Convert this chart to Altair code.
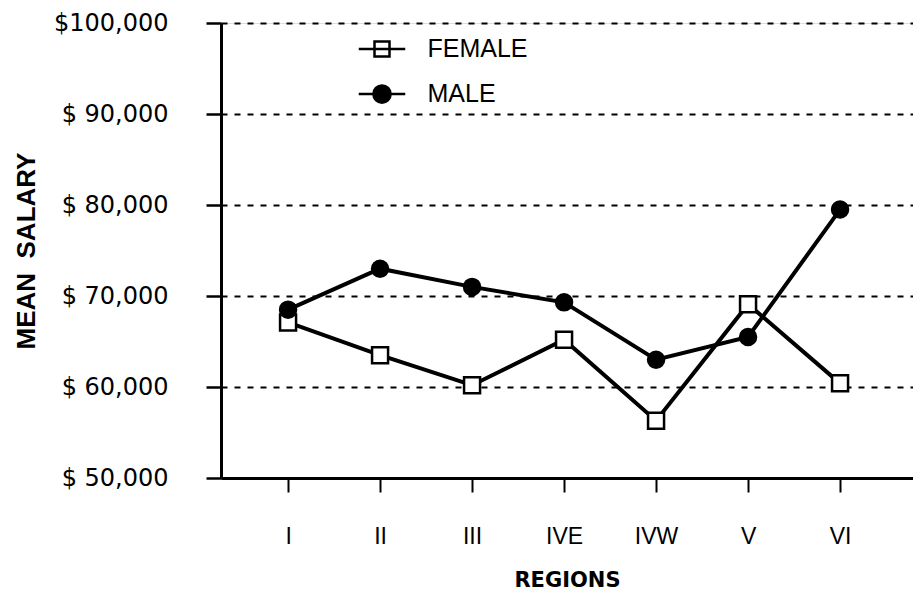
import altair as alt
import pandas as pd

regions = ["I", "II", "III", "IVE", "IVW", "V", "VI"]
series = ["FEMALE", "MALE"]
female = [67100, 63500, 60200, 65200, 56300, 69100, 60400]
male = [68500, 73000, 71000, 69300, 63000, 65500, 79500]
y_ticks = [50000, 60000, 70000, 80000, 90000, 100000]

rows = []
for s, vals in zip(series, [female, male]):
    for r, v in zip(regions, vals):
        rows.append({"region": r, "sex": s, "salary": v})
df = pd.DataFrame(rows)

F_PATH = "M-3.1,0H3.1M-1,-1H1V1H-1Z"
M_PATH = "M-3.1,0H3.1M1.15,0A1.15,1.15,0,1,1,-1.15,0A1.15,1.15,0,1,1,1.15,0Z"

legend = alt.Legend(
    title=None, orient="none", legendX=148.5, legendY=13.5,
    symbolSize=225, symbolStrokeWidth=2.5, symbolStrokeColor="black", symbolOpacity=1,
    labelFont="Liberation Sans", labelFontSize=25, labelColor="black",
    labelOffset=33, rowPadding=17, padding=0,
)

x = alt.X(
    "region:N", sort=regions,
    scale=alt.Scale(type="point", padding=0.761, align=0.479),
    axis=alt.Axis(
        title="REGIONS", titleFont="DejaVu Sans", titleFontWeight="bold", titleFontSize=21,
        titleColor="black", titlePadding=21,
        labelFont="Liberation Sans", labelFontSize=23, labelColor="black", labelPadding=33,
        labelAngle=0,
        domainColor="black", domainWidth=3, tickColor="black", tickWidth=2, tickSize=14,
        grid=False,
    ),
)
y = alt.Y(
    "salary:Q",
    scale=alt.Scale(domain=[50000, 100000], nice=False, zero=False),
    axis=alt.Axis(
        values=y_ticks,
        labelExpr="datum.value == 100000 ? '$100,000' : '$ ' + format(datum.value, ',')",
        title="MEAN\u00a0\u00a0SALARY", titleFont="Liberation Sans", titleFontWeight="bold", titleFontSize=26,
        titleColor="black", titleX=-195, titleBaseline="middle", titleAngle=270,
        labelFont="DejaVu Sans", labelFontSize=24, labelColor="black", labelPadding=38,
        domainColor="black", domainWidth=3, tickColor="black", tickWidth=2.5, tickSize=15,
        grid=True, gridColor="black", gridDash=[6, 7], gridWidth=1.8,
    ),
)

base = alt.Chart(df)
lines = base.mark_line(color="black", strokeWidth=4).encode(x=x, y=y, detail="sex:N")
points = base.mark_point(filled=True, size=256, stroke="black", strokeWidth=2.5, opacity=1).encode(
    x=x, y=y,
    shape=alt.Shape("sex:N", scale=alt.Scale(domain=series, range=["square", "circle"]), legend=None),
    fill=alt.Fill("sex:N", scale=alt.Scale(domain=series, range=["white", "black"]), legend=None),
)
legend_layer = base.transform_filter("false").mark_point(
    filled=True, size=225, strokeWidth=2.5, opacity=1
).encode(
    x=x, y=y,
    shape=alt.Shape("sex:N", scale=alt.Scale(domain=series, range=[F_PATH, M_PATH]), legend=legend),
    fill=alt.Fill("sex:N", scale=alt.Scale(domain=series, range=["white", "black"]), legend=legend),
    stroke=alt.Stroke("sex:N", scale=alt.Scale(domain=series, range=["black", "black"]), legend=legend),
)

chart = alt.layer(lines, points, legend_layer).resolve_scale(
    shape="independent", fill="independent", stroke="independent"
).resolve_legend(shape="independent", fill="independent", stroke="independent").properties(
    width=692, height=455,
    autosize=alt.AutoSizeParams(type="none"),
    padding={"left": 213, "top": 15, "right": 0, "bottom": 114},
).configure_view(stroke=None).configure(background="white")

chart.save("out.html", embed_options={"renderer": "svg", "actions": False})
